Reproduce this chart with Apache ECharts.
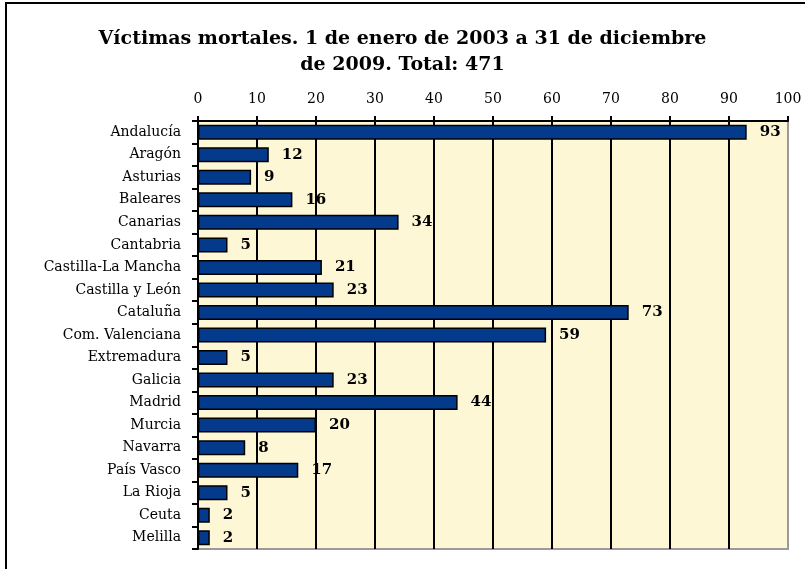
<!DOCTYPE html>
<html>
<head>
<meta charset="utf-8">
<script src="https://cdn.jsdelivr.net/npm/echarts@6/dist/echarts.min.js"></script>
<style>
  html, body { margin: 0; padding: 0; background: #fff; }
  #myChart { width: 805px; height: 569px; }
</style>
</head>
<body>
<div id="myChart"></div>
<script>
// datos
const categories = [
  "Andalucía", "Aragón", "Asturias", "Baleares", "Canarias", "Cantabria",
  "Castilla-La Mancha", "Castilla y León", "Cataluña", "Com. Valenciana",
  "Extremadura", "Galicia", "Madrid", "Murcia", "Navarra", "País Vasco",
  "La Rioja", "Ceuta", "Melilla"
];
const victimas = [93, 12, 9, 16, 34, 5, 21, 23, 73, 59, 5, 23, 44, 20, 8, 17, 5, 2, 2];
const titulo = "Víctimas mortales. 1 de enero de 2003 a 31 de diciembre\nde 2009. Total: 471";

const serif = '"DejaVu Serif", Georgia, serif';
// la última línea (100) es el borde gris del área
const splitColors = ["#000", "#000", "#000", "#000", "#000", "#000", "#000", "#000", "#000", "#000", "#9a9a9a"];

let myChart = echarts.init(document.getElementById("myChart"));
myChart.setOption({
  animation: false,
  title: {
    text: titulo,
    left: "center",
    top: 21,
    textStyle: {
      fontFamily: serif,
      fontWeight: "bold",
      fontSize: 19,
      lineHeight: 26,
      color: "#000",
    },
  },
  graphic: [
    {
      type: "rect",
      shape: { x: 6, y: 3, width: 820, height: 590 },
      style: { fill: null, stroke: "#000", lineWidth: 2 },
      z: 100,
    },
  ],
  grid: {
    left: 198,
    right: 17,
    top: 121,
    bottom: 20,
    show: true,
    backgroundColor: "#fdf7d6",
    borderColor: "#9a9a9a",
    borderWidth: 2,
  },
  xAxis: {
    type: "value",
    position: "top",
    min: 0,
    max: 100,
    interval: 10,
    axisLine: { show: true, lineStyle: { color: "#000", width: 2 } },
    axisTick: { show: true, length: 5, lineStyle: { color: "#000", width: 2 } },
    axisLabel: { fontFamily: serif, fontSize: 14, color: "#000", margin: 15 },
    splitLine: { show: true, lineStyle: { color: splitColors, width: 2 } },
  },
  yAxis: {
    type: "category",
    inverse: true,
    data: categories,
    axisLine: { show: true, lineStyle: { color: "#000", width: 2 } },
    axisTick: { show: true, length: 6, lineStyle: { color: "#000", width: 2 } },
    axisLabel: { fontFamily: serif, fontSize: 14, color: "#000", margin: 17 },
  },
  series: [
    {
      name: "Víctimas mortales",
      type: "bar",
      data: victimas,
      barWidth: 15,
      itemStyle: { color: "#033a8c", borderColor: "#000", borderWidth: 1.5 },
      label: {
        show: true,
        position: "right",
        distance: 13,
        fontFamily: serif,
        fontWeight: "bold",
        fontSize: 15,
        color: "#000",
      },
    },
  ],
});
</script>
</body>
</html>
